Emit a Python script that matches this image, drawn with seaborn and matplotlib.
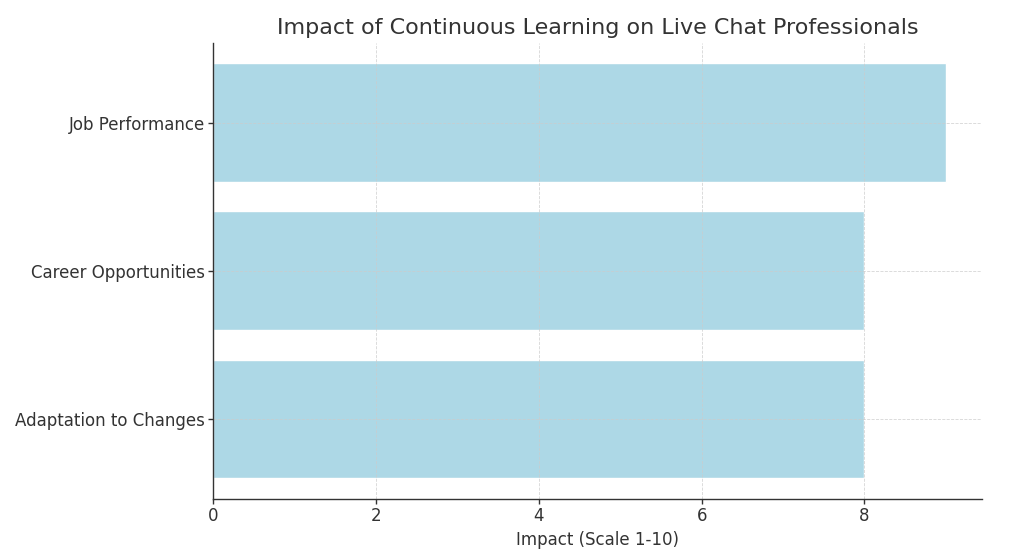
import pandas as pd
import seaborn as sns
import matplotlib.pyplot as plt

sns.set_theme(style="ticks")
plt.rcParams['font.family'] = ['DejaVu Sans']

areas = ["Job Performance", "Career Opportunities", "Adaptation to Changes"]
impact = [9, 8, 8]

df = pd.DataFrame({"Area": areas, "Impact": impact})

fig, ax = plt.subplots(figsize=(10.16, 5.53), dpi=100)
sns.barplot(data=df, x="Impact", y="Area", orient="h", color="#add8e6",
            saturation=1, width=0.8, ax=ax)

ax.set_xlim(0, 9.45)
ax.set_ylim(2.54, -0.54)
ax.set_axisbelow(False)
ax.grid(True, linestyle="--", linewidth=0.6, color="#cccccc", alpha=0.8)
sns.despine(ax=ax)
for s in ["left", "bottom"]:
    ax.spines[s].set_color("#333333")
    ax.spines[s].set_linewidth(1.0)
    ax.spines[s].set_zorder(3)

ax.set_title("Impact of Continuous Learning on Live Chat Professionals",
             fontsize=16, color="#333333")
ax.set_xlabel("Impact (Scale 1-10)", fontsize=12, color="#333333")
ax.set_ylabel("")
ax.tick_params(axis="both", labelsize=12, colors="#333333",
               length=3.5, width=1.0, pad=2.5, left=True, bottom=True)

plt.subplots_adjust(left=0.21, right=0.967, top=0.923, bottom=0.098)
fig.savefig("out.png", dpi=100)
